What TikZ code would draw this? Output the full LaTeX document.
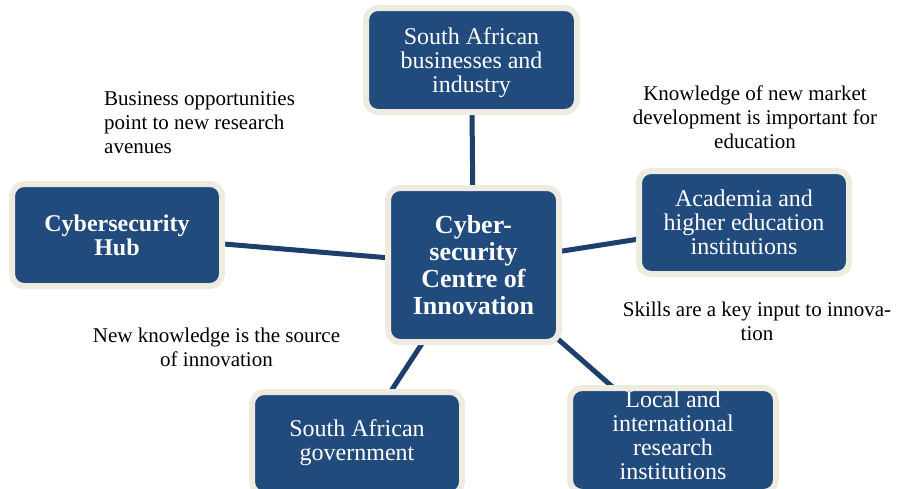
\documentclass[tikz,border=0pt]{standalone}
\usepackage{fontspec}
\setmainfont{Liberation Serif}
\usetikzlibrary{backgrounds}
\definecolor{boxblue}{HTML}{214A7D}
\definecolor{boxrim}{HTML}{EEECE1}
\definecolor{linkblue}{HTML}{1C3F6C}
\tikzset{
  box/.style={draw=boxrim, line width=6pt, fill=boxblue, rounded corners=12pt,
    text=white, align=center, inner sep=0pt, minimum width=210pt,
    minimum height=103pt, font=\fontsize{24}{24}\selectfont},
  link/.style={draw=linkblue, line width=5pt},
  note/.style={font=\fontsize{21}{24}\selectfont, inner sep=0pt}
}
\begin{document}
\begin{tikzpicture}[x=1pt,y=-1pt]
    \useasboundingbox (0,0) rectangle (897,488);
    \clip (0,0) rectangle (897,488);
    \node[box, minimum width=171pt, minimum height=154pt, font=\fontsize{26}{27}\selectfont\bfseries] (centre) at (473.5,265) {Cyber-\\security\\Centre of\\Innovation};
    \node[box, minimum width=211pt, minimum height=104pt, text depth=0pt] (business) at (471.5,60) {South African\\businesses and\\industry};
    \node[box, minimum height=102pt, font=\fontsize{24}{24}\selectfont\bfseries] (hub) at (117,235) {Cybersecurity\\Hub};
    \node[box] (academia) at (744,222.5) {Academia and\\higher education\\institutions};
    \node[box, minimum height=102pt] (government) at (357,443) {South African\\government};
    \node[box, minimum width=206pt, minimum height=104pt, text depth=10pt] (research) at (673,440) {Local and\\international\\research\\institutions};
    \begin{scope}[on background layer]
    \foreach \n in {business,hub,academia,government,research}
        \draw[link] (centre.center) -- (\n.center);
    \end{scope}
    \node[note, anchor=west, align=left] (opportunities) at (104,122.5) {Business opportunities\\point to new research\\avenues};
    \node[note, align=center] (market) at (755,117.5) {Knowledge of new market\\development is important for\\education};
    \node[note, align=center] (skills) at (757,321.5) {Skills are a key input to innova-\\tion};
    \node[note, align=center] (knowledge) at (216.5,347) {New knowledge is the source\\of innovation};
\end{tikzpicture}
\end{document}
